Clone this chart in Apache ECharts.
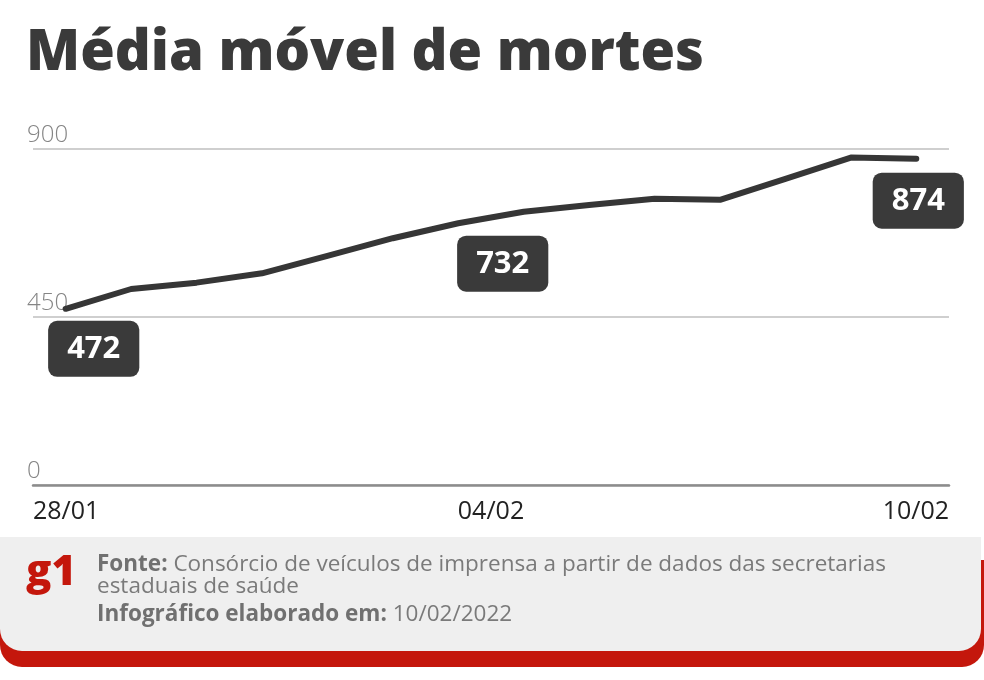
<!DOCTYPE html>
<html>
<head>
<meta charset="utf-8">
<script src="https://cdn.jsdelivr.net/npm/echarts@6/dist/echarts.min.js"></script>
<style>
html,body{margin:0;padding:0;background:#fff;}
#chart{width:984px;height:680px;}
</style>
</head>
<body>
<div id="chart"></div>
<script>
// ---- data ----
const categories = ['28/01','29/01','30/01','31/01','01/02','02/02','03/02','04/02','05/02','06/02','07/02','08/02','09/02','10/02'];
const deaths = [472, 525, 542, 567, 614, 661, 701, 732, 750, 767, 764, 820, 877, 874];
const xTickLabels = ['28/01', '04/02', '10/02'];
const yTicks = [0, 450, 900];
const labelledIndices = [0, 7, 13];
const titleText = 'Média móvel de mortes';
const sourceLabel = 'Fonte:';
const sourceText = ' Consórcio de veículos de imprensa a partir de dados das secretarias';
const sourceText2 = 'estaduais de saúde';
const dateLabel = 'Infográfico elaborado em:';
const dateText = ' 10/02/2022';

// label offsets (style only)
const labelOffsets = {0: [28, 40], 7: [-21, 52], 13: [2, 42]};

const chart = echarts.init(document.getElementById('chart'), null, {renderer: 'canvas'});

const seriesData = deaths.map((v, i) => {
  if (labelledIndices.indexOf(i) >= 0) {
    return {
      value: v,
      label: {
        show: true,
        position: 'inside',
        offset: labelOffsets[i],
        formatter: String(v),
        color: '#ffffff',
        fontFamily: 'Open Sans',
        fontWeight: 'bold',
        fontSize: 31,
        backgroundColor: '#3a3a3a',
        borderRadius: 9,
        padding: [11, 19, 9, 19],
        lineHeight: 36
      }
    };
  }
  return v;
});

const option = {
  animation: false,
  backgroundColor: '#ffffff',
  grid: {left: 33, right: 35, top: 149, bottom: 195, containLabel: false},
  xAxis: [
    {
      type: 'category',
      data: categories,
      boundaryGap: true,
      axisLine: {show: true, lineStyle: {color: '#8c8c8c', width: 2.5}},
      axisTick: {show: false},
      axisLabel: {show: false},
      splitLine: {show: false}
    },
    {
      type: 'value',
      min: 0,
      max: xTickLabels.length - 1,
      interval: 1,
      position: 'bottom',
      axisLine: {show: false},
      axisTick: {show: false},
      splitLine: {show: false},
      axisLabel: {
        show: true,
        margin: 14,
        color: '#222222',
        fontFamily: 'Open Sans',
        fontSize: 25,
        alignMinLabel: 'left',
        alignMaxLabel: 'right',
        formatter: function (v) { return xTickLabels[Math.round(v)] || ''; }
      }
    }
  ],
  yAxis: {
    type: 'value',
    min: yTicks[0],
    max: yTicks[yTicks.length - 1],
    interval: yTicks[1] - yTicks[0],
    axisLine: {show: false},
    axisTick: {show: false},
    axisLabel: {
      inside: true,
      margin: -6,
      verticalAlign: 'bottom',
      padding: [0, 0, 2, 0],
      color: '#858585',
      fontFamily: 'Open Sans',
      fontWeight: 300,
      fontSize: 24
    },
    splitLine: {show: true, lineStyle: {color: '#cfcfcf', width: 2}}
  },
  series: [{
    type: 'line',
    xAxisIndex: 0,
    data: seriesData,
    smooth: false,
    symbol: 'circle',
    symbolSize: 1,
    showSymbol: true,
    itemStyle: {color: 'rgba(0,0,0,0)'},
    lineStyle: {color: '#363636', width: 6, cap: 'round', join: 'round'},
    emphasis: {disabled: true},
    z: 5
  }],
  graphic: [
    {
      type: 'text', left: 26, top: 26,
      style: {text: titleText, fill: '#3a3a3a', font: '800 56px "Open Sans"', letterSpacing: 1, textVerticalAlign: 'top'}
    },
    {
      type: 'rect', left: 0, top: 560, z: 1,
      shape: {width: 984, height: 107, r: [0, 0, 22, 22]},
      style: {fill: '#c4170c'}
    },
    {
      type: 'rect', left: 0, top: 537, z: 2,
      shape: {width: 981, height: 114, r: [0, 0, 22, 22]},
      style: {fill: '#efefef'}
    },
    {
      type: 'text', left: 26, top: 552, z: 3,
      style: {text: 'g1', fill: '#c4170c', font: '800 42px "Open Sans"', letterSpacing: -2}
    },
    {
      type: 'text', left: 97, top: 553, z: 3,
      style: {
        text: '{b|' + sourceLabel + '}' + sourceText,
        font: '22.5px "Open Sans"', fill: '#7a7a7a',
        rich: {b: {font: 'bold 22.5px "Open Sans"', fill: '#707070'}}
      }
    },
    {
      type: 'text', left: 97, top: 575, z: 3,
      style: {text: sourceText2, font: '22.5px "Open Sans"', fill: '#7a7a7a'}
    },
    {
      type: 'text', left: 97, top: 603, z: 3,
      style: {
        text: '{b|' + dateLabel + '}' + dateText,
        font: '22.5px "Open Sans"', fill: '#7a7a7a',
        rich: {b: {font: 'bold 22.5px "Open Sans"', fill: '#707070'}}
      }
    }
  ]
};

chart.setOption(option);
</script>
</body>
</html>
